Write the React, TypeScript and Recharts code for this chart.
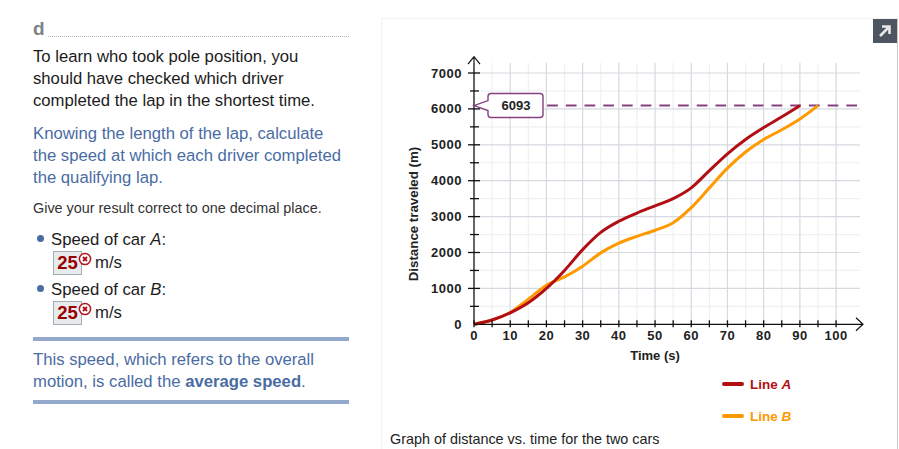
import { CartesianGrid, ComposedChart, Legend, Line, ReferenceDot, ReferenceLine, XAxis, YAxis } from "recharts";

const timeValues = [0, 5, 10, 15, 20, 25, 30, 35, 40, 45, 50, 55, 60, 65, 70, 75, 80, 85, 90, 95];
const lineAValues = [0, 120, 320, 600, 1000, 1500, 2080, 2560, 2870, 3100, 3300, 3500, 3800, 4280, 4750, 5150, 5480, 5780, 6093, null];
const lineBValues = [0, 120, 330, 700, 1090, 1320, 1620, 1990, 2260, 2450, 2620, 2830, 3250, 3800, 4350, 4800, 5150, 5420, 5720, 6093];

const xTicks = [0, 5, 10, 15, 20, 25, 30, 35, 40, 45, 50, 55, 60, 65, 70, 75, 80, 85, 90, 95, 100];
const yTicks = [0, 500, 1000, 1500, 2000, 2500, 3000, 3500, 4000, 4500, 5000, 5500, 6000, 6500, 7000];
const xMajor = [10, 20, 30, 40, 50, 60, 70, 80, 90, 100];
const xMinor = [5, 15, 25, 35, 45, 55, 65, 75, 85, 95];
const yMajor = [1000, 2000, 3000, 4000, 5000, 6000, 7000];
const yMinor = [500, 1500, 2500, 3500, 4500, 5500, 6500];

const lapLength = 6093;
const xMax = 106.6;
const yMax = 7287;

const data = timeValues.map((t, i) => ({ t, a: lineAValues[i], b: lineBValues[i] }));

const sans = "'Liberation Sans', Arial, sans-serif";
const blue = "#4a6ca3";
const rule = "#92a9cb";
const red = "#b10f14";
const orange = "#ff9900";
const purple = "#86417f";

function XTick({ x, y, payload }: any) {
  const major = payload.value % 10 === 0;
  return (
    <g>
      <line x1={x} x2={x} y1={y - 4} y2={y + 3} stroke="#111" strokeWidth={1.3} />
      {major && (
        <text x={x} y={y + 16} textAnchor="middle" fontFamily={sans} fontWeight={700} fontSize={13} letterSpacing={0.5} fill="#222">
          {payload.value}
        </text>
      )}
    </g>
  );
}

function YTick({ x, y, payload }: any) {
  const major = payload.value % 1000 === 0;
  return (
    <g>
      {payload.value !== 0 && <line x1={x - (major ? 6 : 4)} x2={x + (major ? 6 : 5)} y1={y} y2={y} stroke="#111" strokeWidth={1.3} />}
      {major && (
        <text x={x - 12} y={y + 4.5} textAnchor="end" fontFamily={sans} fontWeight={700} fontSize={13} letterSpacing={0.5} fill="#222">
          {payload.value}
        </text>
      )}
    </g>
  );
}

function ArrowUp({ cx, cy }: any) {
  return <path d={`M${cx},${cy}V${cy - 6}M${cx - 6},${cy + 1.5}L${cx},${cy - 6}L${cx + 6},${cy + 1.5}`} fill="none" stroke="#111" strokeWidth={1.2} />;
}

function ArrowRight({ cx, cy }: any) {
  return <path d={`M${cx},${cy}H${cx + 3}M${cx - 4},${cy - 6.5}L${cx + 3},${cy}L${cx - 4},${cy + 6.5}`} fill="none" stroke="#111" strokeWidth={1.2} />;
}

function Callout({ cx, cy }: any) {
  const l = cx + 14;
  const r = cx + 69;
  const t = cy - 12;
  const b = cy + 12;
  return (
    <g>
      <path
        d={`M${cx},${cy}L${l},${cy - 5}V${t + 3}Q${l},${t} ${l + 3},${t}H${r - 3}Q${r},${t} ${r},${t + 3}V${b - 3}Q${r},${b} ${r - 3},${b}H${l + 3}Q${l},${b} ${l},${b - 3}V${cy + 5}Z`}
        fill="#fff"
        stroke={purple}
        strokeWidth={1.4}
      />
      <text x={cx + 42} y={cy + 4.5} textAnchor="middle" fontFamily={sans} fontWeight={700} fontSize={13} fill="#222">
        {lapLength}
      </text>
    </g>
  );
}

function LegendContent({ payload }: any) {
  return (
    <div>
      {(payload ?? []).map((p: any) => {
        const [word, letter] = String(p.value).split(" ");
        return (
          <div key={p.value} style={{ display: "flex", alignItems: "center", height: 32, color: p.color, fontFamily: sans, fontWeight: 700, fontSize: 13.5 }}>
            <span style={{ width: 22, height: 4, borderRadius: 2, background: p.color, marginRight: 6 }} />
            <span>
              {word} <i>{letter}</i>
            </span>
          </div>
        );
      })}
    </div>
  );
}

function Line1({ top, left = 33, color = "#1c1c1c", size = 16.7, children }: any) {
  return (
    <div style={{ position: "absolute", top: top - (size > 16 ? 10 : 11), left, height: 22, lineHeight: "22px", whiteSpace: "nowrap", color, fontSize: size, fontFamily: sans }}>
      {children}
    </div>
  );
}

function ErrorMark({ left, top }: any) {
  return (
    <svg style={{ position: "absolute", left, top }} width={14} height={14} viewBox="0 0 14 14">
      <circle cx={7} cy={7} r={5.6} fill="#fff" stroke="#b5141c" strokeWidth={1.5} />
      <path d="M5,5L9,9M9,5L5,9" stroke="#a90f14" strokeWidth={1.8} />
    </svg>
  );
}

function Answer({ top }: any) {
  return (
    <>
      <div style={{ position: "absolute", left: 53, top, width: 27, height: 22, background: "#e8ebec", border: "1px solid #a4adb4", textAlign: "center", lineHeight: "22px", fontFamily: sans, fontWeight: 700, fontSize: 18.5, color: "#990000" }}>
        25
      </div>
      <ErrorMark left={78} top={top + 1} />
      <Line1 top={top + 11} left={95}>m/s</Line1>
    </>
  );
}

export default function App() {
  return (
    <div style={{ position: "absolute", left: 0, top: 0, width: 899, height: 449, background: "#fff", overflow: "hidden" }}>
      <div style={{ position: "absolute", left: 33, top: 18, fontFamily: sans, fontWeight: 700, fontSize: 19, color: "#7d8286", lineHeight: "22px" }}>d</div>
      <div style={{ position: "absolute", left: 48, top: 36, width: 301, borderTop: "1px dotted #b5b5b5" }} />
      <Line1 top={56}>To learn who took pole position, you</Line1>
      <Line1 top={78}>should have checked which driver</Line1>
      <Line1 top={100}>completed the lap in the shortest time.</Line1>
      <Line1 top={133} color={blue}>Knowing the length of the lap, calculate</Line1>
      <Line1 top={155} color={blue}>the speed at which each driver completed</Line1>
      <Line1 top={177} color={blue}>the qualifying lap.</Line1>
      <Line1 top={208} size={14.4} color="#333">Give your result correct to one decimal place.</Line1>

      <div style={{ position: "absolute", left: 37, top: 235, width: 7, height: 7, borderRadius: 4, background: blue }} />
      <Line1 top={239} left={51}>Speed of car <i>A</i>:</Line1>
      <Answer top={251} />
      <div style={{ position: "absolute", left: 37, top: 285, width: 7, height: 7, borderRadius: 4, background: blue }} />
      <Line1 top={289} left={51}>Speed of car <i>B</i>:</Line1>
      <Answer top={301} />

      <div style={{ position: "absolute", left: 33, top: 337, width: 316, height: 4, background: rule }} />
      <Line1 top={359} color={blue}>This speed, which refers to the overall</Line1>
      <Line1 top={381} color={blue}>motion, is called the <b>average speed</b>.</Line1>
      <div style={{ position: "absolute", left: 33, top: 400, width: 316, height: 4, background: rule }} />

      <div style={{ position: "absolute", left: 381, top: 18, width: 517, height: 431, borderTop: "1px solid #f3f3f3", borderLeft: "1px solid #f3f3f3", borderRight: "1px solid #c9c9c9", boxSizing: "border-box" }} />
      <div style={{ position: "absolute", left: 873, top: 19, width: 24, height: 24, background: "#4d5560" }}>
        <svg width={24} height={24}>
          <path d="M7,17L16,8M9,7.5H16.5V15" fill="none" stroke="#e8e8e8" strokeWidth={2.6} />
        </svg>
      </div>

      <div style={{ position: "absolute", left: 0, top: 0 }}>
        <ComposedChart width={899} height={449} data={data} margin={{ top: 62.7, right: 39, bottom: 94.7, left: 414 }}>
          <CartesianGrid stroke="#eff0f3" strokeWidth={1.2} horizontalValues={yMinor} verticalValues={xMinor} />
          <CartesianGrid stroke="#d6d9e0" strokeWidth={1.2} horizontalValues={yMajor} verticalValues={xMajor} />
          <XAxis dataKey="t" type="number" domain={[0, xMax]} ticks={xTicks} interval={0} tickSize={0} tickMargin={0} height={30} stroke="#111" strokeWidth={1.3} tick={<XTick />} />
          <YAxis type="number" domain={[0, yMax]} ticks={yTicks} interval={0} tickSize={0} tickMargin={0} width={60} stroke="#111" strokeWidth={1.3} tick={<YTick />} />
          <ReferenceLine segment={[{ x: 20.2, y: lapLength }, { x: 106.2, y: lapLength }]} stroke={purple} strokeWidth={2} strokeDasharray="10.7 8" />
          <Line name="Line B" dataKey="b" type="monotone" stroke={orange} strokeWidth={3} dot={false} isAnimationActive={false} />
          <Line name="Line A" dataKey="a" type="monotone" stroke={red} strokeWidth={3} dot={false} isAnimationActive={false} />
          <ReferenceDot x={0} y={lapLength} ifOverflow="visible" shape={<Callout />} />
          <ReferenceDot x={0} y={yMax} ifOverflow="visible" shape={<ArrowUp />} />
          <ReferenceDot x={xMax} y={0} ifOverflow="visible" shape={<ArrowRight />} />
          <Legend layout="horizontal" verticalAlign="middle" align="center" wrapperStyle={{ left: 722, top: 368, width: 110 }} content={<LegendContent />} />
          <text x={655} y={360} textAnchor="middle" fontFamily={sans} fontWeight={700} fontSize={13} fill="#222">Time (s)</text>
          <text x={418} y={214} transform="rotate(-90 418 214)" textAnchor="middle" fontFamily={sans} fontWeight={700} fontSize={13.3} fill="#222">Distance traveled (m)</text>
        </ComposedChart>
      </div>

      <Line1 top={439} left={390} size={14.4} color="#222">Graph of distance vs. time for the two cars</Line1>
    </div>
  );
}
